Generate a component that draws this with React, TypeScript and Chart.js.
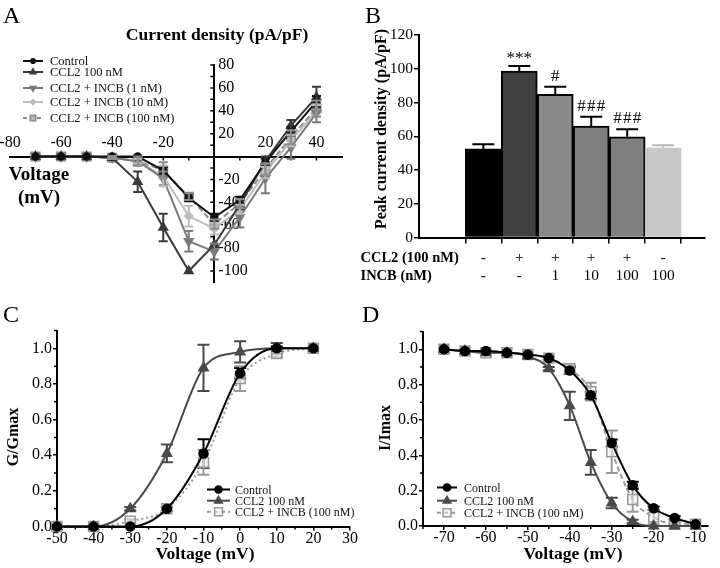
import React, { useEffect, useRef } from 'react';
import { Chart, registerables } from 'chart.js';
Chart.register(...registerables);

const SERIF = '"Liberation Serif", "Times New Roman", Times, serif';

// ---------- Panel A : I-V curves ----------
const voltageA = [-70, -60, -50, -40, -30, -20, -10, 0, 10, 20, 30, 40];
const aControl = [0, 0, 0, 0, 0, -12, -36, -53, -38, -5, 22, 48];
const aCCL2 = [0, 0, 0, -1, -22, -62, -100, -77, -42, -4, 27, 52];
const aINCB1 = [0, 0, 0, -1, -4, -19, -74, -83, -53, -19, 8, 38];
const aINCB10 = [0, 0, 0, -1, -4, -17, -52, -63, -46, -14, 14, 40];
const aINCB100 = [0, 0, 0, -1, -4, -12, -35, -59, -41, -11, 17, 42];
const aControlErr = [0, 0, 0, 0, 1, 3, 3, 3, 3, 3, 4, 5];
const aCCL2Err = [0, 0, 0, 1, 9, 12, 0, 0, 4, 4, 5, 9];
const aINCB1Err = [0, 0, 0, 1, 2, 6, 9, 7, 9, 13, 10, 8];
const aINCB10Err = [0, 0, 0, 1, 2, 9, 9, 5, 4, 5, 5, 5];
const aINCB100Err = [0, 0, 0, 1, 4, 7, 3, 4, 4, 5, 6, 7];
const aXTicks = [-80, -60, -40, -20, 20, 40];
const aYTicks = [80, 60, 40, 20, -20, -40, -60, -80, -100];
const aLabels = ['Control', 'CCL2 100 nM', 'CCL2 + INCB (1 nM)', 'CCL2 + INCB (10 nM)', 'CCL2 + INCB (100 nM)'];

// ---------- Panel B : peak current density ----------
const bValues = [52.5, 98.6, 84.8, 66, 59.7, 53.2];
const bErrors = [2.8, 3, 4.5, 5.5, 4.4, 1.5];
const bCCL2 = ['-', '+', '+', '+', '+', '-'];
const bINCB = ['-', '-', '1', '10', '100', '100'];
const bSig = ['', '***', '#', '###', '###', ''];
const bYTicks = [0, 20, 40, 60, 80, 100, 120];

// ---------- Panel C : activation ----------
const voltageC = [-50, -40, -30, -20, -10, 0, 10, 20];
const cControl = [0, 0, 0, 0.1, 0.41, 0.86, 1.0, 1.0];
const cCCL2 = [0, 0, 0.1, 0.41, 0.89, 0.98, 1.0, 1.0];
const cINCB = [0, 0, 0.03, 0.1, 0.36, 0.83, 0.97, 1.0];
const cControlErr = [0, 0, 0, 0.01, 0.08, 0.03, 0.01, 0];
const cCCL2Err = [0, 0, 0.01, 0.05, 0.13, 0.06, 0.03, 0];
const cINCBErr = [0, 0, 0.01, 0.01, 0.07, 0.07, 0.02, 0];
const cXTicks = [-50, -40, -30, -20, -10, 0, 10, 20, 30];
const cYTicks = [0, 0.2, 0.4, 0.6, 0.8, 1.0];

// ---------- Panel D : inactivation ----------
const voltageD = [-70, -65, -60, -55, -50, -45, -40, -35, -30, -25, -20, -15, -10];
const dControl = [1.0, 0.99, 0.99, 0.98, 0.97, 0.95, 0.88, 0.74, 0.47, 0.23, 0.1, 0.045, 0.01];
const dCCL2 = [1.0, 0.99, 0.98, 0.98, 0.96, 0.89, 0.68, 0.36, 0.13, 0.025, 0.0, 0.0, 0.0];
const dINCB = [1.0, 0.99, 0.98, 0.98, 0.97, 0.95, 0.89, 0.76, 0.42, 0.15, 0.05, 0.01, 0.01];
const dControlErr = [0, 0, 0, 0, 0, 0.01, 0.02, 0.02, 0.02, 0.02, 0.01, 0.01, 0];
const dCCL2Err = [0, 0, 0, 0, 0, 0.01, 0.08, 0.07, 0.03, 0.01, 0, 0, 0];
const dINCBErr = [0, 0, 0, 0, 0, 0.01, 0.02, 0.05, 0.12, 0.07, 0.04, 0.01, 0];
const dXTicks = [-70, -60, -50, -40, -30, -20, -10];
const dYTicks = [0, 0.2, 0.4, 0.6, 0.8, 1.0];
const cdLabels = ['Control', 'CCL2 100 nM', 'CCL2 + INCB (100 nM)'];

type Series = {
  label: string; data: number[]; err: number[]; color: string; fill: string;
  style: string; r: number; rot: number; dash: number[]; legendDash: number[];
};

function drawMarker(ctx: CanvasRenderingContext2D, style: string, x: number, y: number, r: number,
  fill: string, stroke: string, lw: number, rot = 0) {
  ctx.save();
  ctx.translate(x, y);
  ctx.rotate((rot * Math.PI) / 180);
  ctx.beginPath();
  if (style === 'circle') ctx.arc(0, 0, r, 0, Math.PI * 2);
  else if (style === 'triangle') {
    for (let k = 0; k < 3; k++) {
      const a = (k * 2 * Math.PI) / 3;
      const px = Math.sin(a) * r, py = -Math.cos(a) * r;
      if (k) ctx.lineTo(px, py); else ctx.moveTo(px, py);
    }
    ctx.closePath();
  } else if (style === 'rect') {
    const s = r * Math.SQRT1_2;
    ctx.rect(-s, -s, 2 * s, 2 * s);
  } else {
    ctx.moveTo(0, -r); ctx.lineTo(r, 0); ctx.lineTo(0, r); ctx.lineTo(-r, 0); ctx.closePath();
  }
  ctx.fillStyle = fill; ctx.fill();
  ctx.lineWidth = lw; ctx.strokeStyle = stroke; ctx.setLineDash([]); ctx.stroke();
  ctx.restore();
}

function drawLegend(ctx: CanvasRenderingContext2D, series: Series[], x1: number, x2: number, tx: number,
  ys: number[], font: string, scale: number) {
  series.forEach((s, i) => {
    const y = ys[i];
    ctx.save();
    ctx.strokeStyle = s.color; ctx.lineWidth = 2; ctx.setLineDash(s.legendDash);
    ctx.beginPath(); ctx.moveTo(x1, y); ctx.lineTo(x2, y); ctx.stroke();
    ctx.setLineDash([]);
    drawMarker(ctx, s.style, (x1 + x2) / 2, y, s.r * scale, s.fill, s.color, 1.5, s.rot);
    ctx.fillStyle = '#111'; ctx.font = font; ctx.textAlign = 'left'; ctx.textBaseline = 'middle';
    ctx.fillText(s.label, tx, y + 1);
    ctx.restore();
  });
}

function drawErrors(chart: any, series: Series[], xs: number[], cap: number, lw: number) {
  const { ctx } = chart;
  const xS = chart.scales.x, yS = chart.scales.y;
  series.forEach((s) => {
    ctx.save();
    ctx.strokeStyle = s.color; ctx.lineWidth = lw; ctx.setLineDash([]);
    ctx.beginPath();
    s.data.forEach((v, j) => {
      const e = s.err[j];
      if (!e) return;
      const px = xS.getPixelForValue(xs[j]);
      const yt = yS.getPixelForValue(v + e), yb = yS.getPixelForValue(v - e);
      ctx.moveTo(px, yt); ctx.lineTo(px, yb);
      ctx.moveTo(px - cap / 2, yt); ctx.lineTo(px + cap / 2, yt);
      ctx.moveTo(px - cap / 2, yb); ctx.lineTo(px + cap / 2, yb);
    });
    ctx.stroke();
    ctx.restore();
  });
}

function drawText(ctx: CanvasRenderingContext2D, s: string, x: number, y: number, font: string,
  align: CanvasTextAlign = 'center', baseline: CanvasTextBaseline = 'alphabetic', rot = 0) {
  ctx.save();
  ctx.translate(x, y);
  if (rot) ctx.rotate((rot * Math.PI) / 180);
  ctx.fillStyle = '#000'; ctx.font = font; ctx.textAlign = align; ctx.textBaseline = baseline;
  ctx.fillText(s, 0, 0);
  ctx.restore();
}

function lineDatasets(series: Series[], xs: number[], smooth: boolean) {
  return series.map((s) => ({
    label: s.label,
    data: xs.map((v, i) => ({ x: v, y: s.data[i] })),
    borderColor: s.color,
    backgroundColor: s.fill,
    borderWidth: 2,
    borderDash: s.dash,
    pointStyle: s.style,
    pointRadius: s.r,
    pointRotation: s.rot,
    pointBorderColor: s.color,
    pointBackgroundColor: s.fill,
    pointBorderWidth: 1.5,
    tension: 0,
    cubicInterpolationMode: smooth ? 'monotone' : 'default',
    fill: false,
    clip: false,
  }));
}

const baseOptions = {
  responsive: false,
  animation: false,
  devicePixelRatio: 1,
  events: [],
};

function makeA(canvas: HTMLCanvasElement) {
  const series: Series[] = [
    { label: aLabels[0], data: aControl, err: aControlErr, color: '#111111', fill: '#111111', style: 'circle', r: 3.5, rot: 0, dash: [], legendDash: [] },
    { label: aLabels[1], data: aCCL2, err: aCCL2Err, color: '#3a3a3a', fill: '#3a3a3a', style: 'triangle', r: 5, rot: 0, dash: [], legendDash: [] },
    { label: aLabels[2], data: aINCB1, err: aINCB1Err, color: '#7a7a7a', fill: '#7a7a7a', style: 'triangle', r: 5, rot: 180, dash: [], legendDash: [] },
    { label: aLabels[3], data: aINCB10, err: aINCB10Err, color: '#bdbdbd', fill: '#bdbdbd', style: 'rectRot', r: 4, rot: 0, dash: [], legendDash: [] },
    { label: aLabels[4], data: aINCB100, err: aINCB100Err, color: '#8c8c8c', fill: '#b4b4b4', style: 'rect', r: 6, rot: 0, dash: [6, 3], legendDash: [4, 3] },
  ];
  const plugin = {
    id: 'aDecor',
    beforeDatasetsDraw(chart: any) {
      const { ctx } = chart;
      const xs = chart.scales.x, ys = chart.scales.y;
      const x0 = xs.getPixelForValue(0), y0 = ys.getPixelForValue(0);
      ctx.save();
      ctx.strokeStyle = '#000'; ctx.lineWidth = 1.5;
      ctx.beginPath();
      for (let v = -70; v <= 40; v += 10) {
        if (v === 0) continue;
        const px = xs.getPixelForValue(v);
        ctx.moveTo(px, y0); ctx.lineTo(px, y0 + 4);
      }
      for (let v = -100; v <= 80; v += 10) {
        if (v === 0) continue;
        const py = ys.getPixelForValue(v);
        ctx.moveTo(x0 - 4, py); ctx.lineTo(x0, py);
      }
      ctx.stroke();
      ctx.fillStyle = '#000'; ctx.font = `16px ${SERIF}`; ctx.textBaseline = 'middle';
      ctx.textAlign = 'center';
      aXTicks.forEach((v) => ctx.fillText(String(v), xs.getPixelForValue(v), y0 - 14));
      ctx.textAlign = 'left';
      aYTicks.forEach((v) => ctx.fillText(String(v), x0 + 4, ys.getPixelForValue(v)));
      ctx.restore();
    },
    afterDatasetsDraw(chart: any) {
      drawErrors(chart, series, voltageA, 9, 2);
    },
    afterDraw(chart: any) {
      const { ctx } = chart;
      drawLegend(ctx, series, 23, 43, 50, [61, 72, 88, 102, 118], `12.5px ${SERIF}`, 0.65);
      drawText(ctx, 'Current density (pA/pF)', 217, 40, `bold 17.5px ${SERIF}`);
      drawText(ctx, 'Voltage', 39, 180, `bold 19px ${SERIF}`);
      drawText(ctx, '(mV)', 39, 203, `bold 19px ${SERIF}`);
      drawText(ctx, 'A', 3, 23, `24px ${SERIF}`, 'left');
    },
  };
  return new Chart(canvas, {
    type: 'line',
    data: { datasets: lineDatasets(series, voltageA, false) as any },
    options: {
      ...baseOptions,
      layout: { padding: { left: 10, right: 18, top: 65, bottom: 5 } },
      plugins: { legend: { display: false }, tooltip: { enabled: false } },
      scales: {
        x: {
          type: 'linear', min: -80, max: 50, position: { y: 0 },
          ticks: { display: false }, grid: { display: false },
          border: { display: true, color: '#000', width: 2 },
        },
        y: {
          type: 'linear', min: -110, max: 80, position: { x: 0 },
          ticks: { display: false }, grid: { display: false },
          border: { display: true, color: '#000', width: 2 },
        },
      },
    } as any,
    plugins: [plugin],
  });
}

function makeB(canvas: HTMLCanvasElement) {
  const bColors = ['#000000', '#404040', '#8a8a8a', '#808080', '#808080', '#c8c8c8'];
  const bBorders = ['#000000', '#000000', '#000000', '#000000', '#000000', '#c8c8c8'];
  const errColors = ['#000000', '#000000', '#000000', '#000000', '#000000', '#b8b8b8'];
  const plugin = {
    id: 'bDecor',
    afterDatasetsDraw(chart: any) {
      const { ctx } = chart;
      const xs = chart.scales.x, ys = chart.scales.y;
      bValues.forEach((v, i) => {
        const px = xs.getPixelForValue(i);
        const yTop = ys.getPixelForValue(v);
        const yErr = ys.getPixelForValue(v + bErrors[i]);
        ctx.save();
        ctx.strokeStyle = errColors[i]; ctx.lineWidth = 2;
        ctx.beginPath();
        ctx.moveTo(px, yTop); ctx.lineTo(px, yErr);
        ctx.moveTo(px - 11, yErr); ctx.lineTo(px + 11, yErr);
        ctx.stroke();
        ctx.restore();
        if (bSig[i]) {
          ctx.save();
          ctx.fillStyle = '#000'; ctx.font = `17px ${SERIF}`; ctx.textAlign = 'center'; ctx.textBaseline = 'alphabetic';
          const ls = bSig[i].startsWith('#') ? 1.2 : 0;
          (ctx as any).letterSpacing = `${ls}px`;
          ctx.fillText(bSig[i], px + ls / 2, yErr - (bSig[i] === '***' ? 3 : 6));
          ctx.restore();
        }
      });
    },
    afterDraw(chart: any) {
      const { ctx } = chart;
      drawText(ctx, 'CCL2 (100 nM)', 0.5, 258, `bold 14.5px ${SERIF}`, 'left', 'middle');
      drawText(ctx, 'INCB (nM)', 0.5, 276, `bold 14.5px ${SERIF}`, 'left', 'middle');
      drawText(ctx, 'Peak current density (pA/pF)', 22, 129, `bold 16px ${SERIF}`, 'center', 'middle', -90);
      drawText(ctx, 'B', 5, 23, `24px ${SERIF}`, 'left');
    },
  };
  return new Chart(canvas, {
    type: 'bar',
    data: {
      datasets: [{
        data: bValues.map((v, i) => ({ x: i, y: v })),
        backgroundColor: bColors,
        borderColor: bBorders,
        borderWidth: 2,
        barPercentage: 1,
        categoryPercentage: 1,
        borderSkipped: 'bottom',
        clip: false,
      }] as any,
    },
    options: {
      ...baseOptions,
      layout: { padding: { left: 0, right: 15, top: 35, bottom: 0 } },
      plugins: { legend: { display: false }, tooltip: { enabled: false } },
      scales: {
        x: {
          type: 'linear', min: -1.125, max: 5.5,
          afterBuildTicks: (s: any) => { s.ticks = bCCL2.map((_, i) => ({ value: i })); },
          afterFit: (s: any) => { s.height = 52.5; },
          ticks: {
            callback: (_v: any, i: number) => [bCCL2[i], bINCB[i]],
            font: { family: SERIF, size: 15.5, lineHeight: 1.16 }, color: '#000',
            padding: 5.5, maxRotation: 0, autoSkip: false,
          },
          grid: { display: true, drawOnChartArea: false, drawTicks: true, tickLength: 6, color: '#000', lineWidth: 1.5 },
          border: { display: true, color: '#000', width: 2 },
        },
        y: {
          type: 'linear', min: 0, max: 120,
          afterBuildTicks: (s: any) => { s.ticks = bYTicks.map((v) => ({ value: v })); },
          afterFit: (s: any) => { s.width = 59; },
          ticks: { font: { family: SERIF, size: 15.5 }, color: '#000', padding: 1 },
          grid: { display: true, drawOnChartArea: false, drawTicks: true, tickLength: 5, color: '#000', lineWidth: 1.5 },
          border: { display: true, color: '#000', width: 2 },
        },
      },
    } as any,
    plugins: [plugin],
  });
}

function makeCD(canvas: HTMLCanvasElement, panel: 'C' | 'D') {
  const isC = panel === 'C';
  const xsVals = isC ? voltageC : voltageD;
  const incbDash = isC ? [2, 3] : [5, 3];
  const series: Series[] = [
    { label: cdLabels[0], data: isC ? cControl : dControl, err: isC ? cControlErr : dControlErr, color: '#000000', fill: '#000000', style: 'circle', r: 4.5, rot: 0, dash: [], legendDash: [] },
    { label: cdLabels[1], data: isC ? cCCL2 : dCCL2, err: isC ? cCCL2Err : dCCL2Err, color: '#4a4a4a', fill: '#4a4a4a', style: 'triangle', r: 5.5, rot: 0, dash: [], legendDash: [] },
    { label: cdLabels[2], data: isC ? cINCB : dINCB, err: isC ? cINCBErr : dINCBErr, color: '#999999', fill: 'rgba(240,240,240,0.55)', style: 'rect', r: 7, rot: 0, dash: incbDash, legendDash: [4, 3] },
  ];
  const xTicks = isC ? cXTicks : dXTicks;
  const yTicks = isC ? cYTicks : dYTicks;
  const yWidth = isC ? 57 : 63;
  const xMin = isC ? -50 : -75, xMax = isC ? 30 : -7;
  const plugin = {
    id: 'cdDecor',
    beforeDatasetsDraw(chart: any) {
      const { ctx, chartArea } = chart;
      const xs = chart.scales.x, ys = chart.scales.y;
      ctx.save();
      ctx.strokeStyle = '#000'; ctx.lineWidth = 1.5;
      ctx.beginPath();
      for (let v = xMin; v <= xMax; v += 5) {
        if (xTicks.includes(v)) continue;
        const px = xs.getPixelForValue(v);
        ctx.moveTo(px, chartArea.bottom); ctx.lineTo(px, chartArea.bottom + 3);
      }
      for (let k = 1; k <= 11; k += 2) {
        const py = ys.getPixelForValue(k / 10);
        ctx.moveTo(chartArea.left - 3, py); ctx.lineTo(chartArea.left, py);
      }
      ctx.stroke();
      ctx.restore();
      drawErrors(chart, series, xsVals, 12, 2);
    },
    afterDraw(chart: any) {
      const { ctx } = chart;
      if (isC) {
        drawLegend(ctx, series, 207, 230, 235, [199.5, 210.7, 221.8], `12px ${SERIF}`, 0.8);
        drawText(ctx, 'Voltage (mV)', 205, 269, `bold 17.5px ${SERIF}`);
        drawText(ctx, 'G/Gmax', 14, 147, `bold 16px ${SERIF}`, 'center', 'middle', -90);
        drawText(ctx, 'C', 3, 32, `24px ${SERIF}`, 'left');
      } else {
        drawLegend(ctx, series, 77, 97, 104, [197.5, 210.7, 222.7], `12px ${SERIF}`, 0.8);
        drawText(ctx, 'Voltage (mV)', 213, 269, `bold 17.5px ${SERIF}`);
        drawText(ctx, 'I/Imax', 26, 138, `bold 16px ${SERIF}`, 'center', 'middle', -90);
        drawText(ctx, 'D', 2, 32, `24px ${SERIF}`, 'left');
      }
    },
  };
  return new Chart(canvas, {
    type: 'line',
    data: { datasets: lineDatasets(series, xsVals, true) as any },
    options: {
      ...baseOptions,
      layout: { padding: { left: 0, right: isC ? 10 : 11.8, top: isC ? 40.5 : 41.6, bottom: 0 } },
      plugins: { legend: { display: false }, tooltip: { enabled: false } },
      scales: {
        x: {
          type: 'linear', min: xMin, max: xMax,
          afterBuildTicks: (s: any) => { s.ticks = xTicks.map((v) => ({ value: v })); },
          afterFit: (s: any) => { s.height = isC ? 41.5 : 42; },
          ticks: { font: { family: SERIF, size: 16, lineHeight: 1 }, color: '#000', padding: 0, maxRotation: 0, autoSkip: false },
          grid: { display: true, drawOnChartArea: false, drawTicks: true, tickLength: 4, color: '#000', lineWidth: 1.5 },
          border: { display: true, color: '#000', width: 2 },
        },
        y: {
          type: 'linear', min: 0, max: 1.1,
          afterBuildTicks: (s: any) => { s.ticks = yTicks.map((v) => ({ value: v })); },
          afterFit: (s: any) => { s.width = yWidth; },
          ticks: { callback: (v: any) => Number(v).toFixed(1), font: { family: SERIF, size: 16 }, color: '#000', padding: 1, autoSkip: false },
          grid: { display: true, drawOnChartArea: false, drawTicks: true, tickLength: 4, color: '#000', lineWidth: 1.5 },
          border: { display: true, color: '#000', width: 2 },
        },
      },
    } as any,
    plugins: [plugin],
  });
}

export default function App() {
  const refA = useRef<HTMLCanvasElement>(null);
  const refB = useRef<HTMLCanvasElement>(null);
  const refC = useRef<HTMLCanvasElement>(null);
  const refD = useRef<HTMLCanvasElement>(null);
  useEffect(() => {
    const charts = [
      makeA(refA.current!),
      makeB(refB.current!),
      makeCD(refC.current!, 'C'),
      makeCD(refD.current!, 'D'),
    ];
    return () => charts.forEach((c) => c.destroy());
  }, []);
  const cs = (l: number, t: number, w: number, h: number): React.CSSProperties => ({
    position: 'absolute', left: l, top: t, width: w, height: h,
  });
  return (
    <div style={{ position: 'absolute', left: 0, top: 0, width: 720, height: 568, background: '#fff', overflow: 'hidden' }}>
      <canvas ref={refA} width={360} height={290} style={cs(0, 0, 360, 290)} />
      <canvas ref={refB} width={360} height={290} style={cs(360, 0, 360, 290)} />
      <canvas ref={refC} width={360} height={278} style={cs(0, 290, 360, 278)} />
      <canvas ref={refD} width={360} height={278} style={cs(360, 290, 360, 278)} />
    </div>
  );
}
